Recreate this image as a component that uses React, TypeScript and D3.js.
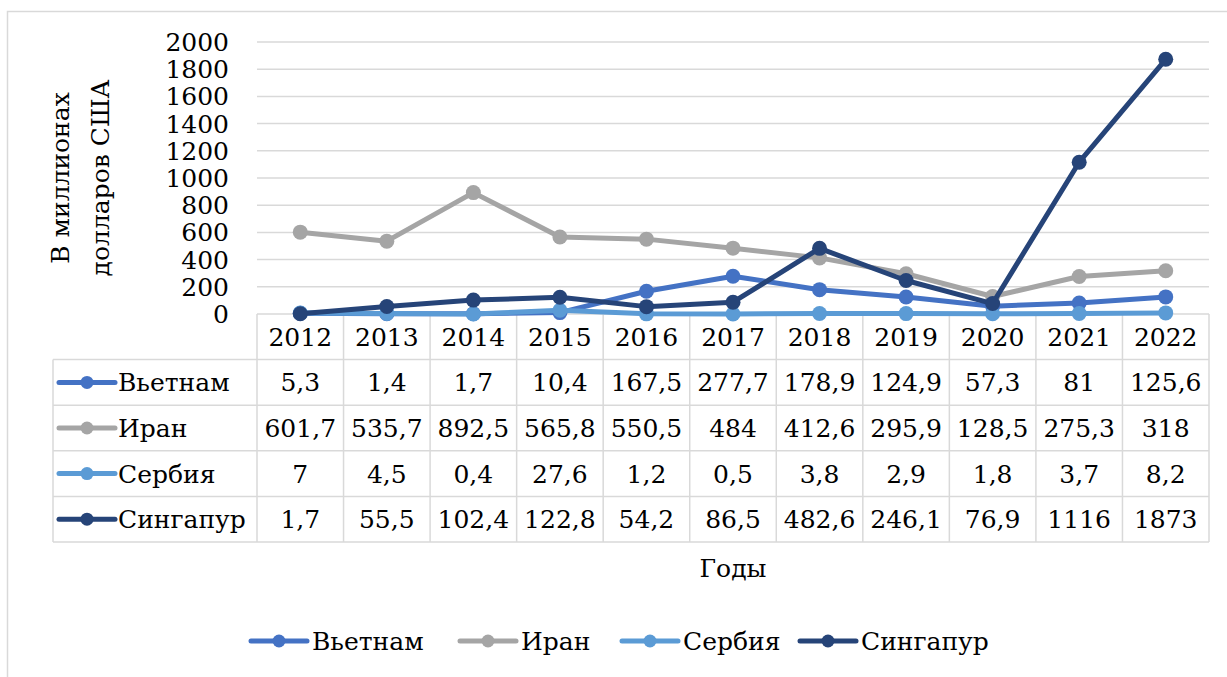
import React, { useRef, useEffect } from "react";
import * as d3 from "d3";

const years = ["2012", "2013", "2014", "2015", "2016", "2017", "2018", "2019", "2020", "2021", "2022"];
const vietnam = [5.3, 1.4, 1.7, 10.4, 167.5, 277.7, 178.9, 124.9, 57.3, 81, 125.6];
const iran = [601.7, 535.7, 892.5, 565.8, 550.5, 484, 412.6, 295.9, 128.5, 275.3, 318];
const serbia = [7, 4.5, 0.4, 27.6, 1.2, 0.5, 3.8, 2.9, 1.8, 3.7, 8.2];
const singapore = [1.7, 55.5, 102.4, 122.8, 54.2, 86.5, 482.6, 246.1, 76.9, 1116, 1873];
const yTicks = [0, 200, 400, 600, 800, 1000, 1200, 1400, 1600, 1800, 2000];

const seriesList = [
  { name: "Вьетнам", values: vietnam, color: "#4472C4" },
  { name: "Иран", values: iran, color: "#A5A5A5" },
  { name: "Сербия", values: serbia, color: "#5B9BD5" },
  { name: "Сингапур", values: singapore, color: "#264478" },
];

const fmt = (v: number) => String(v).replace(".", ",");

const App = () => {
  const ref = useRef<SVGSVGElement>(null);

  useEffect(() => {
    const svg = d3.select(ref.current);
    svg.selectAll("*").remove();

    const left = 257, right = 1209, top = 42, bottom = 314;
    const rowH = 45.6;
    const labelLeft = 53;

    const x = d3.scaleBand().domain(years).range([left, right]);
    const y = d3.scaleLinear().domain([0, 2000]).range([bottom, top]);

    const root = svg.append("g")
      .attr("font-family", "DejaVu Serif")
      .attr("font-size", 25);

    // chart frame (cut off on the right and bottom)
    root.append("rect")
      .attr("x", 7.5).attr("y", 11.5)
      .attr("width", 1300).attr("height", 800)
      .attr("fill", "#fff").attr("stroke", "#d9d9d9").attr("stroke-width", 1.5);

    // gridlines
    root.append("g").selectAll("line")
      .data(yTicks.slice(1))
      .enter().append("line")
      .attr("x1", left).attr("x2", right)
      .attr("y1", (d) => y(d)).attr("y2", (d) => y(d))
      .attr("stroke", "#d9d9d9").attr("stroke-width", 1.5);

    // y tick labels
    root.append("g").selectAll("text")
      .data(yTicks)
      .enter().append("text")
      .attr("x", 229).attr("y", (d) => y(d))
      .attr("dy", "0.36em")
      .attr("text-anchor", "end")
      .text((d) => d);

    // y axis title
    const yt = root.append("text")
      .attr("transform", "translate(80,178) rotate(-90)")
      .attr("text-anchor", "middle");
    yt.append("tspan").attr("x", 0).attr("y", -11).text("В миллионах");
    yt.append("tspan").attr("x", 0).attr("y", 29).text("долларов США");

    // data table
    const tbl = root.append("g");
    const gridColor = "#d9d9d9";
    const tableBottom = bottom + rowH * 5;
    years.forEach((yr) => {
      const x0 = x(yr)!;
      tbl.append("line").attr("x1", x0).attr("x2", x0)
        .attr("y1", bottom).attr("y2", tableBottom)
        .attr("stroke", gridColor).attr("stroke-width", 1.5);
    });
    tbl.append("line").attr("x1", right).attr("x2", right)
      .attr("y1", bottom).attr("y2", tableBottom)
      .attr("stroke", gridColor).attr("stroke-width", 1.5);
    tbl.append("line").attr("x1", labelLeft).attr("x2", labelLeft)
      .attr("y1", bottom + rowH).attr("y2", tableBottom)
      .attr("stroke", gridColor).attr("stroke-width", 1.5);
    tbl.append("line").attr("x1", left).attr("x2", right)
      .attr("y1", bottom).attr("y2", bottom)
      .attr("stroke", gridColor).attr("stroke-width", 1.5);
    for (let r = 1; r <= 5; r++) {
      const yy = bottom + rowH * r;
      tbl.append("line").attr("x1", labelLeft).attr("x2", right)
        .attr("y1", yy).attr("y2", yy)
        .attr("stroke", gridColor).attr("stroke-width", 1.5);
    }
    // year header
    tbl.selectAll("text.year")
      .data(years)
      .enter().append("text")
      .attr("class", "year")
      .attr("x", (d) => x(d)! + x.bandwidth() / 2)
      .attr("y", bottom + rowH / 2)
      .attr("dy", "0.36em")
      .attr("text-anchor", "middle")
      .text((d) => d);
    // rows
    seriesList.forEach((s, r) => {
      const cy = bottom + rowH * (r + 1) + rowH / 2;
      tbl.append("line").attr("x1", 59).attr("x2", 115)
        .attr("y1", cy).attr("y2", cy)
        .attr("stroke", s.color).attr("stroke-width", 5).attr("stroke-linecap", "round");
      tbl.append("circle").attr("cx", 87).attr("cy", cy).attr("r", 6.5).attr("fill", s.color);
      tbl.append("text").attr("x", 118).attr("y", cy).attr("dy", "0.36em")
        .text(s.name);
      tbl.selectAll(null)
        .data(s.values)
        .enter().append("text")
        .attr("x", (d, i) => x(years[i])! + x.bandwidth() / 2)
        .attr("y", cy).attr("dy", "0.36em")
        .attr("text-anchor", "middle")
        .text((d) => fmt(d));
    });

    // lines and markers
    const line = d3.line<number>()
      .x((d, i) => x(years[i])! + x.bandwidth() / 2)
      .y((d) => y(d));
    seriesList.forEach((s) => {
      const g = root.append("g");
      g.append("path").datum(s.values)
        .attr("d", line)
        .attr("fill", "none").attr("stroke", s.color)
        .attr("stroke-width", 5).attr("stroke-linejoin", "round");
      g.selectAll("circle")
        .data(s.values)
        .enter().append("circle")
        .attr("cx", (d, i) => x(years[i])! + x.bandwidth() / 2)
        .attr("cy", (d) => y(d))
        .attr("r", 7.5)
        .attr("fill", s.color);
    });

    // x axis title
    root.append("text")
      .attr("x", 733).attr("y", 568).attr("dy", "0.36em")
      .attr("text-anchor", "middle")
      .text("Годы");

    // legend
    const legendX = [251, 460, 622, 800];
    const ly = 641;
    seriesList.forEach((s, i) => {
      const lx = legendX[i];
      root.append("line").attr("x1", lx).attr("x2", lx + 56)
        .attr("y1", ly).attr("y2", ly)
        .attr("stroke", s.color).attr("stroke-width", 5).attr("stroke-linecap", "round");
      root.append("circle").attr("cx", lx + 28).attr("cy", ly).attr("r", 6.5).attr("fill", s.color);
      root.append("text").attr("x", lx + 61).attr("y", ly).attr("dy", "0.36em")
        .text(s.name);
    });
  }, []);

  return (
    <svg
      ref={ref}
      width={1227}
      height={677}
      style={{ position: "absolute", left: 0, top: 0, background: "#fff" }}
    />
  );
};

export default App;
